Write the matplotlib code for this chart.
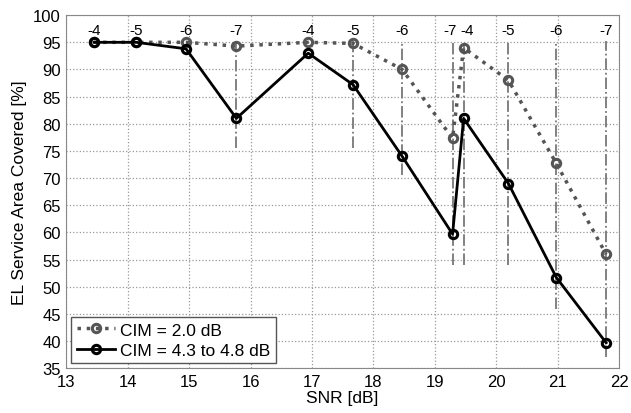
import matplotlib.pyplot as plt

plt.rcParams['font.family'] = ['Liberation Sans', 'DejaVu Sans']

snr = [13.45, 14.14, 14.95, 15.77, 16.94, 17.67, 18.47, 19.29, 19.47, 20.2, 20.98, 21.79]
cim_20 = [95, 95, 95, 94.3, 95, 94.8, 90, 77.3, 94, 88, 72.7, 56]
cim_43 = [95, 95, 93.8, 81, 93, 87.2, 74, 59.7, 81, 69, 51.7, 39.7]
labels = ['-4', '-5', '-6', '-7', '-4', '-5', '-6', '-7', '-4', '-5', '-6', '-7']
# small horizontal nudges (points) so the crowded labels don't collide
nudge = [0, 0, 0, 0, 0, 0, 0, -2, 2.5, 0, 0, 0]

# dash-dot guide lines
guide_x = [15.77, 17.67, 18.47, 19.29, 19.47, 20.2, 20.98, 21.79]
guide_low = [75.5, 75.5, 70.5, 54, 54, 54, 46, 37]

fig, ax = plt.subplots(figsize=(6.31, 4.14), dpi=100)

ax.vlines(guide_x, guide_low, 95.3, colors='#777777', linestyles='-.', linewidth=1.3, zorder=2)

ax.plot(snr, cim_20, color='#555555', linestyle=':', linewidth=2.5, marker='o',
        markersize=6, markerfacecolor='none', markeredgewidth=2.2, label='CIM = 2.0 dB', zorder=3)
ax.plot(snr, cim_43, color='black', linestyle='-', linewidth=2, marker='o',
        markersize=6, markerfacecolor='none', markeredgewidth=2.2, label='CIM = 4.3 to 4.8 dB', zorder=4)

for xv, lb, dx in zip(snr, labels, nudge):
    ax.annotate(lb, (xv, 96.0), xytext=(dx, 0), textcoords='offset points',
                ha='center', va='bottom', fontsize=11)

ax.set_xlim(13, 22)
ax.set_ylim(35, 100)
ax.set_xticks(range(13, 23))
ax.set_yticks(range(35, 101, 5))
ax.tick_params(labelsize=12, length=0, pad=4)
ax.grid(True, linestyle=':', color='#999999', linewidth=0.9)
for s in ax.spines.values():
    s.set_color('#888888')

ax.set_xlabel('SNR [dB]', fontsize=12.5, labelpad=1)
ax.set_ylabel('EL Service Area Covered [%]', fontsize=12.5, labelpad=4)

leg = ax.legend(loc='lower left', fontsize=12.5, fancybox=False, framealpha=1,
                edgecolor='#555555', handlelength=2.2, handletextpad=0.3,
                borderpad=0.3, labelspacing=0.3, borderaxespad=0.3)
leg.get_frame().set_linewidth(1)

fig.subplots_adjust(left=0.105, right=0.981, top=0.961, bottom=0.108)
fig.savefig('out.png', dpi=100)
